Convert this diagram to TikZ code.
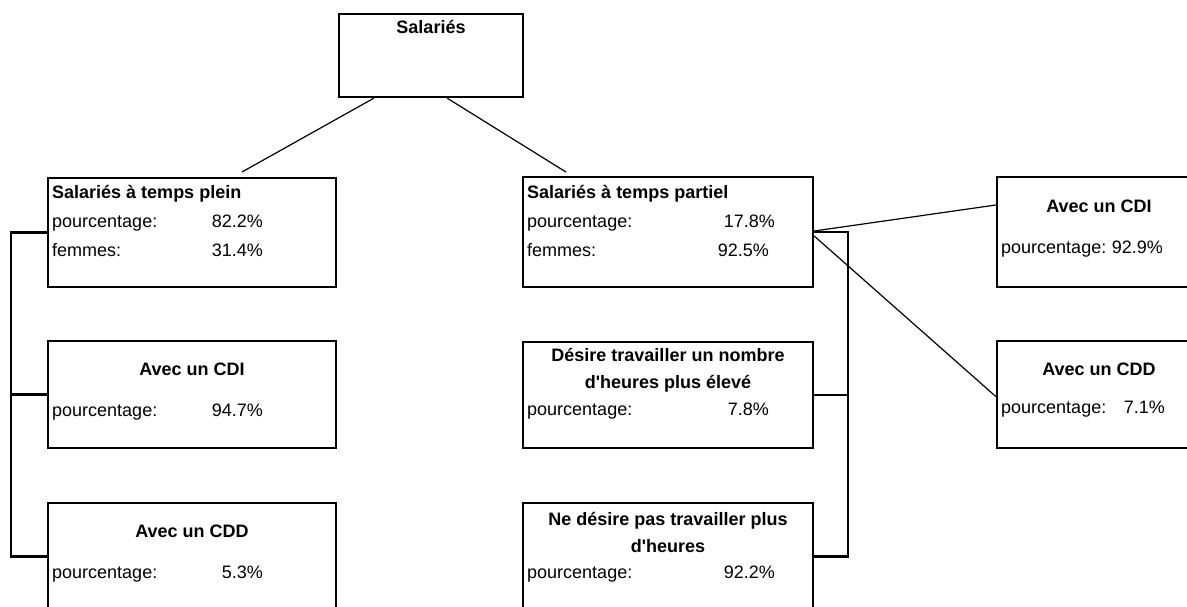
\documentclass[tikz,border=0pt]{standalone}
\usepackage{fontspec}
\setmainfont{Liberation Sans}
\tikzset{box/.style={draw, line width=2.4pt, inner sep=0pt},
    txt/.style={inner sep=0pt, anchor=base west, font=\fontsize{18}{27}\selectfont},
    val/.style={inner sep=0pt, anchor=base east, font=\fontsize{18}{27}\selectfont},
    title/.style={inner sep=0pt, anchor=base west, font=\bfseries\fontsize{18}{27}\selectfont},
    head/.style={inner sep=0pt, anchor=base, align=center, font=\bfseries\fontsize{18}{27}\selectfont},
    link/.style={line width=2.4pt},
    twig/.style={line width=1.2pt}}

\begin{document}
\begin{tikzpicture}[x=1pt, y=-1pt]
    \useasboundingbox (0,0) rectangle (1187,606);
    \clip (0,0) rectangle (1187,606);

    % top
    \node (sal) [box, minimum width=184pt, minimum height=83pt] at (431,55.5) {};
    \node (salh) [head] at (431,33) {Salariés};

    % temps plein
    \node (plein) [box, minimum width=288pt, minimum height=109pt] at (192,232.5) {};
    \node (pleint) [title] at (52,198) {Salariés à temps plein};
    \node (pleinp) [txt] at (52,227) {pourcentage:};
    \node (pleinpv) [val] at (263,227) {82.2\%};
    \node (pleinf) [txt] at (52,256) {femmes:};
    \node (pleinfv) [val] at (263,256) {31.4\%};

    \node (cdig) [box, minimum width=288pt, minimum height=107pt] at (192,394.5) {};
    \node (cdigh) [head] at (192,375) {Avec un CDI};
    \node (cdigp) [txt] at (52,416) {pourcentage:};
    \node (cdigv) [val] at (263,416) {94.7\%};

    \node (cddg) [box, minimum width=288pt, minimum height=107pt] at (192,556.5) {};
    \node (cddgh) [head] at (192,537) {Avec un CDD};
    \node (cddgp) [txt] at (52,578) {pourcentage:};
    \node (cddgv) [val] at (263,578) {5.3\%};

    % temps partiel
    \node (part) [box, minimum width=290pt, minimum height=110pt] at (668,232) {};
    \node (partt) [title] at (527,198) {Salariés à temps partiel};
    \node (partp) [txt] at (527,227) {pourcentage:};
    \node (partpv) [val] at (775,227) {17.8\%};
    \node (partf) [txt] at (527,256) {femmes:};
    \node (partfv) [val] at (769,256) {92.5\%};

    \node (plus) [box, minimum width=290pt, minimum height=106pt] at (668,395) {};
    \node (plush) [head] at (668,388) {Désire travailler un nombre\\d\textquotesingle heures plus élevé};
    \node (plusp) [txt] at (527,415) {pourcentage:};
    \node (plusv) [val] at (769,415) {7.8\%};

    \node (pasplus) [box, minimum width=290pt, minimum height=107pt] at (668,556.5) {};
    \node (pasplush) [head] at (668,552) {Ne désire pas travailler plus\\d\textquotesingle heures};
    \node (pasplusp) [txt] at (527,578) {pourcentage:};
    \node (pasplusv) [val] at (775,578) {92.2\%};

    \node (cdid) [box, minimum width=204pt, minimum height=110pt] at (1099,232) {};
    \node (cdidh) [head] at (1099,212) {Avec un CDI};
    \node (cdidp) [txt] at (1001,253) {pourcentage:};
    \node (cdidv) [val] at (1163,253) {92.9\%};

    \node (cddd) [box, minimum width=204pt, minimum height=107pt] at (1099,394.5) {};
    \node (cdddh) [head] at (1099,375) {Avec un CDD};
    \node (cdddp) [txt] at (1001,413) {pourcentage:};
    \node (cdddv) [val] at (1165,413) {7.1\%};

    \coordinate (pleintop) at (242,172);
    \coordinate (parttop) at (566,172);

    \draw[twig] ([xshift=36pt]sal.south west) -- (pleintop);
    \draw[twig] ([xshift=-77pt]sal.south east) -- (parttop);

    \draw[link] (plein.west) -- ++(-36,0) |- (cddg.west);
    \draw[link] (cdig.west) -- ++(-36,0);
    \draw[link] (part.east) -- ++(34,0) |- (pasplus.east);
    \draw[link] (plus.east) -- ++(34,0);

    \draw[twig] ([yshift=1pt]part.east) -- ([yshift=27pt]cdid.west);
    \draw[twig] ([yshift=-4pt]part.east) -- ([yshift=-2pt]cddd.west);
\end{tikzpicture}
\end{document}
